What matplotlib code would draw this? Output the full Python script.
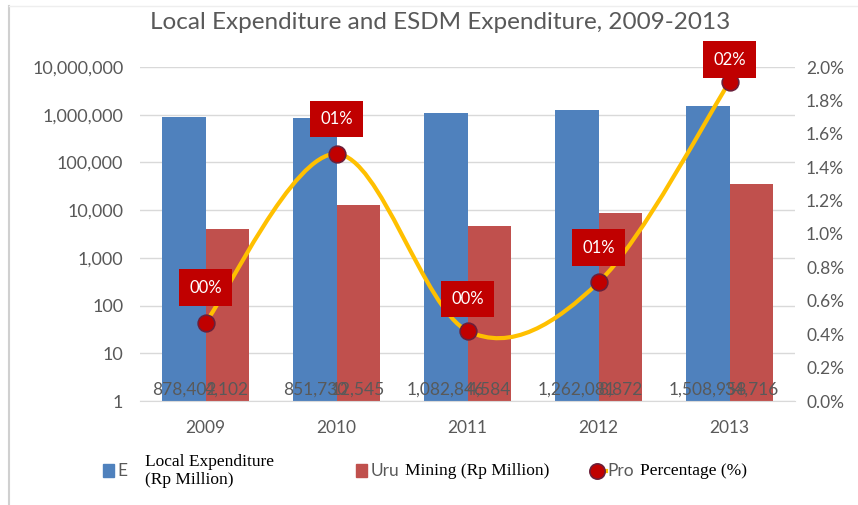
#! /usr/bin/env python3
# Local vs ESDM expenditure, 2009-2013 (log bars + percentage line)

import numpy as np
import matplotlib
matplotlib.use('Agg')
import matplotlib.pyplot as plt
from matplotlib.path import Path
from matplotlib.patches import PathPatch, Rectangle
from matplotlib.lines import Line2D
from matplotlib.ticker import FuncFormatter, FixedLocator
import matplotlib.transforms as mtrans

years = ['2009', '2010', '2011', '2012', '2013']
local_exp = [878402, 851730, 1082846, 1262081, 1508958]
mining_exp = [4102, 12545, 4584, 8872, 34716]
pct = [0.0047, 0.0148, 0.0042, 0.0071, 0.0191]
pct_labels = ['00%', '01%', '00%', '01%', '02%']

blue = '#4F81BD'
red = '#C0504D'
gold = '#FFC000'
dark_red = '#C00000'
gray = '#595959'

plt.rcParams['font.family'] = ['Lato', 'DejaVu Sans']

fig = plt.figure(figsize=(8.58, 5.05), dpi=100)
ax = fig.add_axes([140/858, 1-401/505, 655/858, 334/505])
ax2 = ax.twinx()

x = np.arange(len(years))
w = 0.33
ax.set_yscale('log')
ax.set_ylim(1, 1e7)
ax.set_xlim(-0.5, 4.5)
ax.bar(x - w/2, local_exp, w, color=blue, zorder=2)
ax.bar(x + w/2, mining_exp, w, color=red, zorder=2)

ax.yaxis.set_major_locator(FixedLocator([10**k for k in range(8)]))
ax.yaxis.set_minor_locator(FixedLocator([]))
ax.yaxis.set_major_formatter(FuncFormatter(lambda v, p: f'{int(round(v)):,}'))
ax.grid(axis='y', color='#D9D9D9', lw=1, zorder=0)
ax.set_axisbelow(True)
for s in ['top', 'right', 'left']:
    ax.spines[s].set_visible(False)
    ax2.spines[s].set_visible(False)
ax.spines['bottom'].set_color('#D9D9D9')
ax2.spines['bottom'].set_visible(False)
ax.set_xticks(x)
ax.set_xticklabels(years)
ax.tick_params(axis='x', length=0, pad=14, labelsize=12.5, labelcolor=gray)
ax.tick_params(axis='y', length=0, pad=12, labelsize=13, labelcolor=gray)

# value labels near the base of the bars
trans = mtrans.blended_transform_factory(ax.transData, ax.transAxes)
for i in range(len(years)):
    ax.text(x[i] - w/2, 0.033, f'{local_exp[i]:,}', transform=trans,
            ha='center', va='center', fontsize=12.5, color=gray, zorder=4)
    ax.text(x[i] + w/2, 0.033, f'{mining_exp[i]:,}', transform=trans,
            ha='center', va='center', fontsize=12.5, color=gray, zorder=4)

# right axis: percentage line, smoothed like Excel
ax2.set_ylim(0, 0.02)
ax2.set_yticks(np.arange(0, 0.0201, 0.002))
ax2.yaxis.set_major_formatter(FuncFormatter(lambda v, p: f'{v*100:.1f}%'))
ax2.tick_params(axis='y', length=0, pad=8, labelsize=12.5, labelcolor=gray)

pts = np.column_stack([x, pct]).astype(float)
verts = [tuple(pts[0])]
codes = [Path.MOVETO]
n = len(pts)
for i in range(n - 1):
    p0 = pts[max(i - 1, 0)]
    p1 = pts[i]
    p2 = pts[i + 1]
    p3 = pts[min(i + 2, n - 1)]
    c1 = p1 + (p2 - p0) / 6
    c2 = p2 - (p3 - p1) / 6
    verts += [tuple(c1), tuple(c2), tuple(p2)]
    codes += [Path.CURVE4] * 3
ax2.add_patch(PathPatch(Path(verts, codes), fc='none', ec=gold, lw=3, zorder=3))
ax2.plot(x, pct, 'o', ms=12, mfc=dark_red, mec='#6B1F3A', mew=1.2, zorder=4)

offsets = [25, 25, 23, 25, 16]
for i in range(len(years)):
    ax2.annotate(pct_labels[i], (x[i], pct[i]), xytext=(0, offsets[i]),
                 textcoords='offset points', ha='center', va='center',
                 fontsize=12, color='white', zorder=6,
                 bbox=dict(boxstyle='square,pad=0.62', fc=dark_red, ec='none'))

fig.text(0.513, 0.955, 'Local Expenditure and ESDM Expenditure, 2009-2013',
         ha='center', va='center', fontsize=17.5, color=gray)

# legend drawn by hand (keys are overlaid with serif captions)
ly = 1 - 471/505
fig.patches.append(Rectangle((103/858, ly - 6/505), 11/858, 13/505,
                             transform=fig.transFigure, color=blue))
fig.text(117/858, ly, 'E', fontsize=12.5, color=gray, va='center')
fig.text(145/858, ly, 'Local Expenditure\n(Rp Million)', fontsize=12.5,
         family='Liberation Serif', va='center', linespacing=1.15)
fig.patches.append(Rectangle((356/858, ly - 6/505), 11/858, 13/505,
                             transform=fig.transFigure, color=red))
fig.text(371/858, ly, 'Uru', fontsize=12.5, color=gray, va='center')
fig.text(405/858, ly, 'Mining (Rp Million)', fontsize=12.5,
         family='Liberation Serif', va='center')
fig.lines.append(Line2D([596/858, 606/858], [ly, ly], transform=fig.transFigure,
                        color=gold, lw=3))
fig.lines.append(Line2D([597/858], [ly], transform=fig.transFigure, marker='o',
                        ms=11, mfc=dark_red, mec='#6B1F3A', mew=1.2))
pros = fig.text(607/858, ly, 'Pros', fontsize=12.5, color=gray, va='center')
pros.set_clip_box(mtrans.TransformedBbox(
    mtrans.Bbox.from_extents(600/858, 0, 634/858, 1), fig.transFigure))
pros.set_clip_on(True)
fig.text(640/858, ly, 'Percentage (%)', fontsize=12.5,
         family='Liberation Serif', va='center')

# outer frame edge
fig.lines.append(Line2D([9/858, 9/858], [0, 1 - 6/505], transform=fig.transFigure,
                        color='#D0D0D0', lw=1.5))
fig.lines.append(Line2D([9/858, 1], [1 - 6/505, 1 - 6/505], transform=fig.transFigure,
                        color='#EEEEEE', lw=1))

fig.savefig('out.png', dpi=100)
